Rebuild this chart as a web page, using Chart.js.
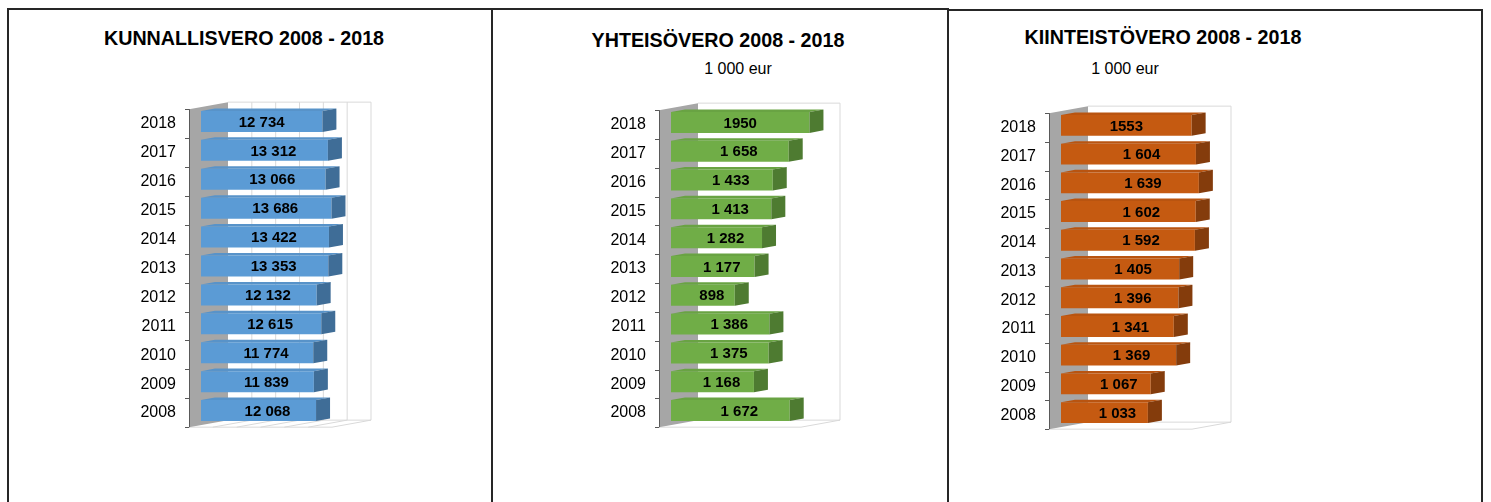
<!DOCTYPE html>
<html lang="fi">
<head>
<meta charset="utf-8">
<title>Verotulot 2008 - 2018</title>
<script src="https://cdn.jsdelivr.net/npm/chart.js@4.4.1/dist/chart.umd.min.js"></script>
<style>
  body { margin: 0; background: #fff; }
  #page { position: relative; width: 1491px; height: 502px; overflow: hidden; font-family: 'Liberation Sans', Arial, sans-serif; color: #000; }
  .line { position: absolute; background: #262626; }
  .title { position: absolute; font-weight: bold; font-size: 19.7px; line-height: 1; white-space: nowrap; transform: translateX(-50%); }
  .unit { position: absolute; font-size: 16px; line-height: 1; white-space: nowrap; transform: translateX(-50%); }
  canvas { position: absolute; }
</style>
</head>
<body>
<div id="page">
  <!-- panel frames -->
  <div class="line" style="left:7px; top:8px; width:941px; height:2px;"></div>
  <div class="line" style="left:948px; top:9px; width:535px; height:2px;"></div>
  <div class="line" style="left:7px; top:8px; width:2px; height:494px;"></div>
  <div class="line" style="left:491px; top:8px; width:2px; height:494px;"></div>
  <div class="line" style="left:947px; top:8px; width:2px; height:494px;"></div>
  <div class="line" style="left:1481px; top:9px; width:2px; height:493px;"></div>

  <div class="title" style="left:244px; top:29px;">KUNNALLISVERO 2008 - 2018</div>
  <div class="title" style="left:718px; top:31px;">YHTEISÖVERO 2008 - 2018</div>
  <div class="unit" style="left:738px; top:61px;">1 000 eur</div>
  <div class="title" style="left:1163px; top:28px;">KIINTEISTÖVERO 2008 - 2018</div>
  <div class="unit" style="left:1125px; top:61px;">1 000 eur</div>

  <canvas id="kunnallisChart" width="482" height="492" style="left:9px; top:10px;"></canvas>
  <canvas id="yhteisoChart" width="453" height="492" style="left:494px; top:10px;"></canvas>
  <canvas id="kiinteistoChart" width="531" height="491" style="left:950px; top:11px;"></canvas>
</div>

<script>
// years, oldest first (drawn bottom -> top)
const years = ['2008', '2009', '2010', '2011', '2012', '2013', '2014', '2015', '2016', '2017', '2018'];

// 1 000 eur
const kunnallisvero = [12068, 11839, 11774, 12615, 12132, 13353, 13422, 13686, 13066, 13312, 12734];
const yhteisovero = [1672, 1168, 1375, 1386, 898, 1177, 1282, 1413, 1433, 1658, 1950];
const kiinteistovero = [1033, 1067, 1369, 1341, 1396, 1405, 1592, 1602, 1639, 1604, 1553];

// labels as printed on the bars
const kunnallisLabels = ['12 068', '11 839', '11 774', '12 615', '12 132', '13 353', '13 422', '13 686', '13 066', '13 312', '12 734'];
const yhteisoLabels = ['1 672', '1 168', '1 375', '1 386', '898', '1 177', '1 282', '1 413', '1 433', '1 658', '1950'];
const kiinteistoLabels = ['1 033', '1 067', '1 369', '1 341', '1 396', '1 405', '1 592', '1 602', '1 639', '1 604', '1553'];

// value axis (hidden) max and back-wall gridlines
const kunnallisMax = 15000;
const kunnallisGrid = [2500, 5000, 7500, 10000, 12500];
const yhteisoMax = 2000;
const kiinteistoMax = 1700;

Chart.defaults.font.family = "'Liberation Sans', Arial, sans-serif";
Chart.defaults.color = '#000';

const AXIS_W = 60;     // fixed width of the category axis
const INSET = 12;      // bars sit this far behind the front plane
const DEPTH = 39;      // depth of the side wall
const SLOPE = 0.18;    // vertical rise per px of depth
const BAR_DEPTH = 14;  // depth of each bar

// fake 3D: wall, floor, back wall before the bars; bar tops/sides + labels after
const bars3d = {
    id: 'bars3d',
    beforeDatasetsDraw(chart, args, opts) {
        const { ctx, chartArea: a, scales: { x } } = chart;
        const W = a.right - a.left;
        const fx = a.left - INSET;
        const bx = fx + DEPTH;
        const ft = a.top + INSET * SLOPE, fb = a.bottom + INSET * SLOPE;
        const bt = ft - DEPTH * SLOPE, bb = fb - DEPTH * SLOPE;

        ctx.save();
        ctx.lineWidth = 1;
        ctx.strokeStyle = '#d9d9d9';
        // back wall outline + floor
        ctx.beginPath();
        ctx.moveTo(bx, bt); ctx.lineTo(bx + W, bt); ctx.lineTo(bx + W, bb);
        ctx.lineTo(fx + W, fb); ctx.lineTo(fx, fb);
        ctx.moveTo(bx, bb); ctx.lineTo(bx + W, bb);
        ctx.stroke();

        // gridlines on back wall and floor
        (opts.grid || []).forEach(v => {
            const off = x.getPixelForValue(v) - a.left;
            ctx.beginPath();
            ctx.moveTo(bx + off, bt);
            ctx.lineTo(bx + off, bb);
            ctx.lineTo(fx + off, fb);
            ctx.stroke();
        });

        // grey side wall
        ctx.fillStyle = '#a6a6a6';
        ctx.beginPath();
        ctx.moveTo(fx, ft); ctx.lineTo(bx, bt); ctx.lineTo(bx, bb); ctx.lineTo(fx, fb);
        ctx.closePath();
        ctx.fill();

        // axis line and tick marks between categories
        ctx.strokeStyle = '#595959';
        ctx.beginPath();
        ctx.moveTo(fx + 0.5, ft); ctx.lineTo(fx + 0.5, fb);
        const n = chart.data.labels.length;
        for (let i = 0; i <= n; i++) {
            const yy = Math.round(ft + i * (fb - ft) / n) + 0.5;
            ctx.moveTo(fx - 4, yy); ctx.lineTo(fx, yy);
        }
        ctx.stroke();
        ctx.restore();
    },
    afterDatasetsDraw(chart, args, opts) {
        const { ctx } = chart;
        const meta = chart.getDatasetMeta(0);
        const dd = BAR_DEPTH * SLOPE;
        ctx.save();
        meta.data.forEach((bar, i) => {
            const { x: ex, y: cy, base, height } = bar.getProps(['x', 'y', 'base', 'height'], true);
            const top = cy - height / 2, bot = cy + height / 2;
            // top face
            ctx.fillStyle = opts.topColor;
            ctx.beginPath();
            ctx.moveTo(base, top); ctx.lineTo(ex, top);
            ctx.lineTo(ex + BAR_DEPTH, top - dd); ctx.lineTo(base + BAR_DEPTH, top - dd);
            ctx.closePath();
            ctx.fill();
            // side face
            ctx.fillStyle = opts.sideColor;
            ctx.beginPath();
            ctx.moveTo(ex, top); ctx.lineTo(ex + BAR_DEPTH, top - dd);
            ctx.lineTo(ex + BAR_DEPTH, bot - dd); ctx.lineTo(ex, bot);
            ctx.closePath();
            ctx.fill();
            // value label (the newest one was placed by hand, centred on the front face)
            const shift = i === opts.manualIndex ? 0 : opts.labelShift;
            ctx.fillStyle = '#000';
            ctx.font = "bold 15px 'Liberation Sans', Arial, sans-serif";
            ctx.textAlign = 'center';
            ctx.textBaseline = 'middle';
            ctx.fillText(opts.labels[i], (base + ex) / 2 + shift, cy + 1);
        });
        ctx.restore();
    }
};

function makeChart(id, box, area, values, max, style) {
    const ctx = document.getElementById(id).getContext('2d');
    return new Chart(ctx, {
        type: 'bar',
        data: {
            labels: years,
            datasets: [{
                data: values,
                backgroundColor: style.front,
                borderWidth: 0,
                barPercentage: 0.727,
                categoryPercentage: 1
            }]
        },
        options: {
            indexAxis: 'y',
            responsive: false,
            animation: false,
            layout: {
                padding: {
                    left: area.left - box.left - AXIS_W,
                    top: area.top - box.top,
                    right: box.left + box.w - area.right,
                    bottom: box.top + box.h - area.bottom
                }
            },
            scales: {
                x: { display: false, min: 0, max: max },
                y: {
                    reverse: true,
                    afterFit: (s) => { s.width = AXIS_W; },
                    grid: { display: false, drawTicks: false },
                    border: { display: false },
                    ticks: { padding: 25, labelOffset: 2.5, autoSkip: false, font: { size: 16 }, color: '#000' }
                }
            },
            plugins: {
                legend: { display: false },
                tooltip: { enabled: false },
                bars3d: {
                    topColor: style.top, sideColor: style.side, grid: style.grid,
                    labels: style.labels, labelShift: style.labelShift, manualIndex: years.length - 1
                }
            }
        },
        plugins: [bars3d]
    });
}

makeChart('kunnallisChart',
    { left: 9, top: 10, w: 482, h: 492 },
    { left: 201, top: 107, right: 344, bottom: 425 },
    kunnallisvero, kunnallisMax,
    { front: '#5b9bd5', top: '#5893c9', side: '#3f6d97', grid: kunnallisGrid, labels: kunnallisLabels, labelShift: 9 });

makeChart('yhteisoChart',
    { left: 494, top: 10, w: 453, h: 492 },
    { left: 671, top: 108, right: 813, bottom: 425 },
    yhteisovero, yhteisoMax,
    { front: '#70ad47', top: '#69a343', side: '#4e7b31', grid: [], labels: yhteisoLabels, labelShift: 9 });

makeChart('kiinteistoChart',
    { left: 950, top: 11, w: 531, h: 491 },
    { left: 1061, top: 111, right: 1204, bottom: 427 },
    kiinteistovero, kiinteistoMax,
    { front: '#c55a11', top: '#b95410', side: '#843c0c', grid: [], labels: kiinteistoLabels, labelShift: 13 });
</script>
</body>
</html>
